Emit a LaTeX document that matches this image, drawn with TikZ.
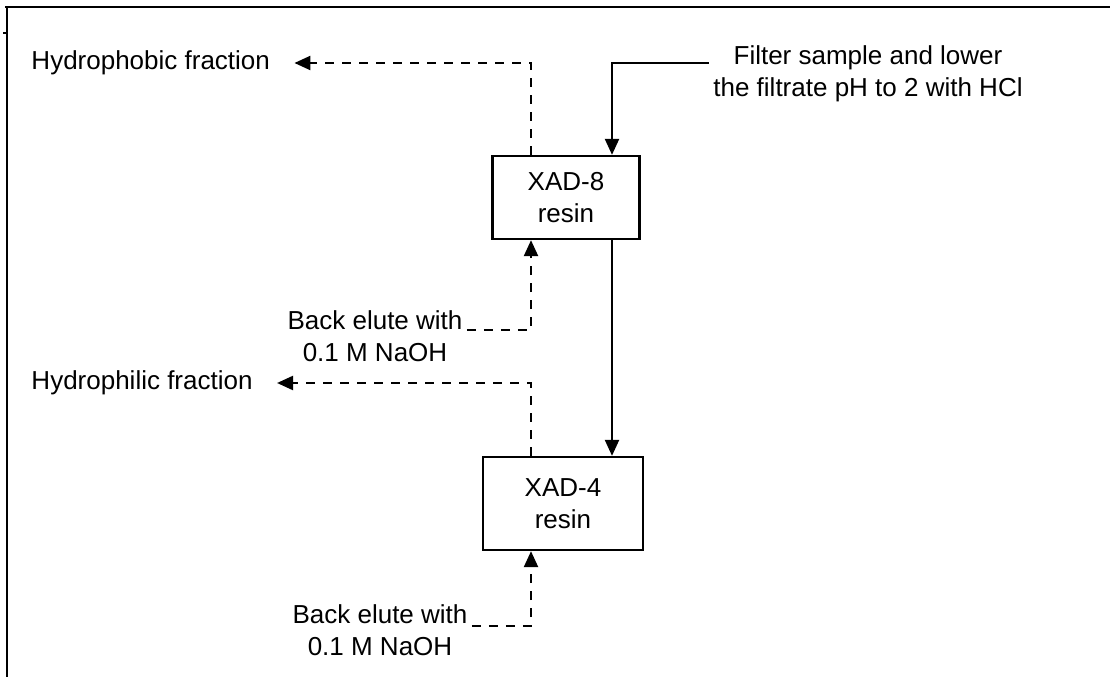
\documentclass[tikz,border=0pt]{standalone}
\usepackage{fontspec}
\setmainfont{Liberation Sans}
\usetikzlibrary{arrows.meta}

\begin{document}
\begin{tikzpicture}[x=1pt,y=-1pt,line width=2.3pt,font=\fontsize{26}{32}\selectfont,
  resin/.style={draw,rectangle,align=center},
  flow/.style={-{Triangle[length=16pt,width=14pt]}},
  elute/.style={flow,dash pattern=on 9pt off 8pt}]
  \useasboundingbox (0,0) rectangle (1110,677);
  % marco
  \draw (5,7) -- (1110,7); \draw (7,7) -- (7,677); \draw (3,33) -- (7,33);
  % columnas de resina
  \node[resin,minimum width=147,minimum height=83] (xad8) at (566,197.5) {XAD-8\\resin};
  \node[resin,minimum width=160,minimum height=93] (xad4) at (563,503.5) {XAD-4\\resin};
  % textos
  \node[align=center] (filt) at (868,74) {Filter sample and lower\\the filtrate pH to 2 with HCl};
  \node[anchor=west] (hphob) at (27,63) {Hydrophobic fraction};
  \node[anchor=west] (hphil) at (27,383) {Hydrophilic fraction};
  \node[align=center] (elute8) at (375,336) {Back elute with\\0.1 M NaOH};
  \node[align=center] (elute4) at (380,630) {Back elute with\\0.1 M NaOH};
  % puntos de entrada y salida
  \coordinate (in8) at ([xshift=46pt]xad8.north);
  \coordinate (out8) at ([xshift=46pt]xad8.south);
  \coordinate (top8) at ([xshift=-35pt]xad8.north);
  \coordinate (bot8) at ([xshift=-35pt]xad8.south);
  \coordinate (top4) at ([xshift=-32pt]xad4.north);
  \coordinate (bot4) at ([xshift=-32pt]xad4.south);
  % flujo de la muestra
  \draw[flow] ([yshift=11pt]filt.west) -| (in8);
  \draw[flow] (out8) -- (out8 |- xad4.north);
  % retroelucion y fracciones
  \draw[elute] (top8) |- ([xshift=20pt]hphob.east);
  \draw[elute] ([yshift=6pt]elute8.east) -| (bot8);
  \draw[elute] (top4) |- ([xshift=20pt]hphil.east);
  \draw[elute] ([yshift=4pt]elute4.east) -| (bot4);
\end{tikzpicture}
\end{document}
